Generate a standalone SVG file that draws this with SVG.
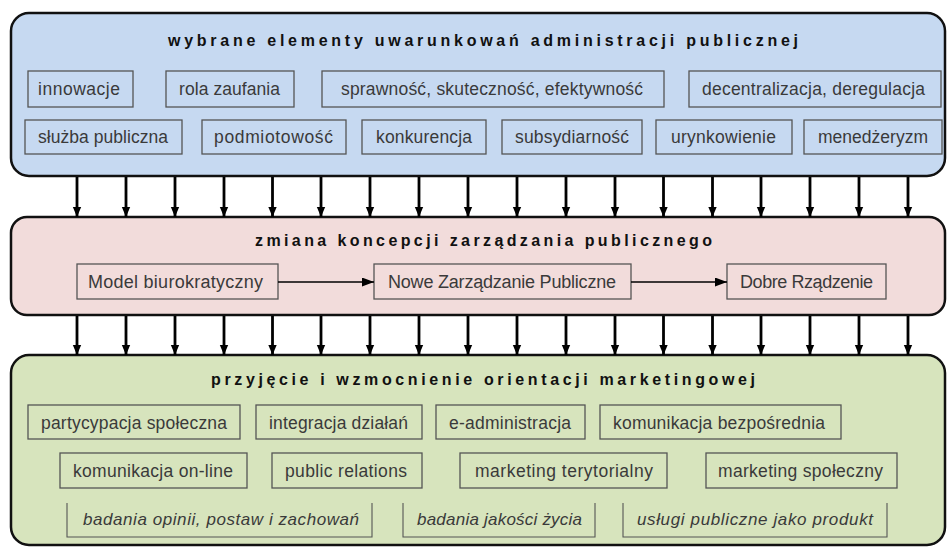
<svg xmlns="http://www.w3.org/2000/svg" width="948" height="547" viewBox="0 0 948 547">
<style>
.panel{stroke:#111;stroke-width:2.5}
.p1{fill:#c6d9f1}.p2{fill:#f2dcdb}.p3{fill:#d7e4bd}
.box{fill:none;stroke:#555;stroke-width:1.3}
.br{fill:none;stroke:#555;stroke-width:1.1}
.t{font-family:"Liberation Sans",Arial,sans-serif;font-size:17.5px;fill:#3a3a3a;text-anchor:middle}
.tm{font-size:18px}
.ti{font-style:italic;font-size:17px}
.title{font-family:"Liberation Sans",Arial,sans-serif;font-size:16px;font-weight:bold;fill:#111;text-anchor:middle}
.va{stroke:#000;stroke-width:2.8;marker-end:url(#ah)}
.ha{stroke:#000;stroke-width:1.6;marker-end:url(#ah2)}
</style>
<defs>
<marker id="ah" markerUnits="userSpaceOnUse" markerWidth="10" markerHeight="12" refX="12" refY="5" orient="auto" viewBox="0 0 12 10"><path d="M0,0 L12,5 L0,10 z" fill="#000"/></marker>
<marker id="ah2" markerUnits="userSpaceOnUse" markerWidth="12" markerHeight="9" refX="12" refY="4.5" orient="auto" viewBox="0 0 12 9"><path d="M0,0 L12,4.5 L0,9 z" fill="#000"/></marker>
</defs>

<g id="panel-top">
<rect class="panel p1" x="11" y="13" width="934" height="163" rx="18"/>
<text class="title" x="483" y="46" textLength="630" lengthAdjust="spacing">wybrane elementy uwarunkowań administracji publicznej</text>
</g>
<g id="n-innowacje"><rect class="box" x="28" y="71" width="105" height="36"/><text class="t" x="79" y="95" textLength="82" lengthAdjust="spacing">innowacje</text></g>
<g id="n-rola"><rect class="box" x="166" y="71" width="128" height="36"/><text class="t" x="229.5" y="95" textLength="101" lengthAdjust="spacing">rola zaufania</text></g>
<g id="n-sprawnosc"><rect class="box" x="322" y="71" width="342" height="36"/><text class="t" x="492" y="95" textLength="302" lengthAdjust="spacing">sprawność, skuteczność, efektywność</text></g>
<g id="n-decentralizacja"><rect class="box" x="689" y="71" width="252" height="36"/><text class="t" x="813.5" y="95" textLength="223" lengthAdjust="spacing">decentralizacja, deregulacja</text></g>
<g id="n-sluzba"><rect class="box" x="25" y="120" width="157" height="34"/><text class="t" x="103" y="143" textLength="130" lengthAdjust="spacing">służba publiczna</text></g>
<g id="n-podmiotowosc"><rect class="box" x="202" y="120" width="144" height="34"/><text class="t" x="273.5" y="143" textLength="119" lengthAdjust="spacing">podmiotowość</text></g>
<g id="n-konkurencja"><rect class="box" x="362" y="120" width="124" height="34"/><text class="t" x="424" y="143" textLength="96" lengthAdjust="spacing">konkurencja</text></g>
<g id="n-subsydiarnosc"><rect class="box" x="502" y="120" width="140" height="34"/><text class="t" x="572" y="143" textLength="114" lengthAdjust="spacing">subsydiarność</text></g>
<g id="n-urynkowienie"><rect class="box" x="656" y="120" width="136" height="34"/><text class="t" x="723.5" y="143" textLength="105" lengthAdjust="spacing">urynkowienie</text></g>
<g id="n-menedzeryzm"><rect class="box" x="804" y="120" width="138" height="34"/><text class="t" x="873" y="143" textLength="110" lengthAdjust="spacing">menedżeryzm</text></g>

<g id="panel-middle">
<rect class="panel p2" x="11" y="217" width="934" height="98" rx="16"/>
<text class="title" x="483.5" y="246" textLength="457" lengthAdjust="spacing">zmiana koncepcji zarządzania publicznego</text>
</g>
<g id="n-model"><rect class="box" x="77" y="264" width="201" height="35"/><text class="t tm" x="175.5" y="288" textLength="175" lengthAdjust="spacing">Model biurokratyczny</text></g>
<g id="n-nowe"><rect class="box" x="374" y="264" width="257" height="35"/><text class="t tm" x="502" y="288" textLength="228" lengthAdjust="spacing">Nowe Zarządzanie Publiczne</text></g>
<g id="n-dobre"><rect class="box" x="727" y="264" width="159" height="35"/><text class="t tm" x="806.5" y="288" textLength="133" lengthAdjust="spacing">Dobre Rządzenie</text></g>

<g id="panel-bottom">
<rect class="panel p3" x="11" y="355" width="934" height="190" rx="18"/>
<text class="title" x="483" y="385" textLength="544" lengthAdjust="spacing">przyjęcie i wzmocnienie orientacji marketingowej</text>
</g>
<g id="n-partycypacja"><rect class="box" x="28" y="405" width="212" height="34"/><text class="t" x="134" y="429" textLength="186" lengthAdjust="spacing">partycypacja społeczna</text></g>
<g id="n-integracja"><rect class="box" x="256" y="405" width="166" height="34"/><text class="t" x="338.5" y="429" textLength="139" lengthAdjust="spacing">integracja działań</text></g>
<g id="n-eadmin"><rect class="box" x="436" y="405" width="149" height="34"/><text class="t" x="510" y="429" textLength="122" lengthAdjust="spacing">e-administracja</text></g>
<g id="n-kombezp"><rect class="box" x="600" y="405" width="241" height="34"/><text class="t" x="719" y="429" textLength="212" lengthAdjust="spacing">komunikacja bezpośrednia</text></g>
<g id="n-komonline"><rect class="box" x="60" y="453" width="187" height="35"/><text class="t" x="153" y="477" textLength="160" lengthAdjust="spacing">komunikacja on-line</text></g>
<g id="n-pr"><rect class="box" x="272" y="453" width="150" height="35"/><text class="t" x="346" y="477" textLength="122" lengthAdjust="spacing">public relations</text></g>
<g id="n-mterytorialny"><rect class="box" x="460" y="453" width="207" height="35"/><text class="t" x="564" y="477" textLength="178" lengthAdjust="spacing">marketing terytorialny</text></g>
<g id="n-mspoleczny"><rect class="box" x="706" y="453" width="191" height="35"/><text class="t" x="800.5" y="477" textLength="165" lengthAdjust="spacing">marketing społeczny</text></g>
<g id="n-badania-opinii"><path class="br" d="M67,503 V537 H372 V503"/><text class="t ti" x="221" y="525" textLength="276" lengthAdjust="spacing">badania opinii, postaw i zachowań</text></g>
<g id="n-badania-jakosci"><path class="br" d="M403,503 V537 H595 V503"/><text class="t ti" x="499.5" y="525" textLength="165" lengthAdjust="spacing">badania jakości życia</text></g>
<g id="n-uslugi"><path class="br" d="M623,503 V537 H887 V503"/><text class="t ti" x="755" y="525" textLength="236" lengthAdjust="spacing">usługi publiczne jako produkt</text></g>

<g id="connectors">
<line class="va" x1="77" y1="177" x2="77" y2="217"/>
<line class="va" x1="126" y1="177" x2="126" y2="217"/>
<line class="va" x1="175" y1="177" x2="175" y2="217"/>
<line class="va" x1="224" y1="177" x2="224" y2="217"/>
<line class="va" x1="272.5" y1="177" x2="272.5" y2="217"/>
<line class="va" x1="321" y1="177" x2="321" y2="217"/>
<line class="va" x1="370" y1="177" x2="370" y2="217"/>
<line class="va" x1="419" y1="177" x2="419" y2="217"/>
<line class="va" x1="468" y1="177" x2="468" y2="217"/>
<line class="va" x1="517" y1="177" x2="517" y2="217"/>
<line class="va" x1="566" y1="177" x2="566" y2="217"/>
<line class="va" x1="615" y1="177" x2="615" y2="217"/>
<line class="va" x1="663.5" y1="177" x2="663.5" y2="217"/>
<line class="va" x1="712.5" y1="177" x2="712.5" y2="217"/>
<line class="va" x1="761" y1="177" x2="761" y2="217"/>
<line class="va" x1="810" y1="177" x2="810" y2="217"/>
<line class="va" x1="859" y1="177" x2="859" y2="217"/>
<line class="va" x1="908" y1="177" x2="908" y2="217"/>
<line class="va" x1="77" y1="316" x2="77" y2="355"/>
<line class="va" x1="126" y1="316" x2="126" y2="355"/>
<line class="va" x1="175" y1="316" x2="175" y2="355"/>
<line class="va" x1="224" y1="316" x2="224" y2="355"/>
<line class="va" x1="272.5" y1="316" x2="272.5" y2="355"/>
<line class="va" x1="321" y1="316" x2="321" y2="355"/>
<line class="va" x1="370" y1="316" x2="370" y2="355"/>
<line class="va" x1="419" y1="316" x2="419" y2="355"/>
<line class="va" x1="468" y1="316" x2="468" y2="355"/>
<line class="va" x1="517" y1="316" x2="517" y2="355"/>
<line class="va" x1="566" y1="316" x2="566" y2="355"/>
<line class="va" x1="615" y1="316" x2="615" y2="355"/>
<line class="va" x1="663.5" y1="316" x2="663.5" y2="355"/>
<line class="va" x1="712.5" y1="316" x2="712.5" y2="355"/>
<line class="va" x1="761" y1="316" x2="761" y2="355"/>
<line class="va" x1="810" y1="316" x2="810" y2="355"/>
<line class="va" x1="859" y1="316" x2="859" y2="355"/>
<line class="va" x1="908" y1="316" x2="908" y2="355"/>
<line class="ha" x1="278" y1="282" x2="374" y2="282"/>
<line class="ha" x1="631" y1="282" x2="727" y2="282"/>
</g>
</svg>
